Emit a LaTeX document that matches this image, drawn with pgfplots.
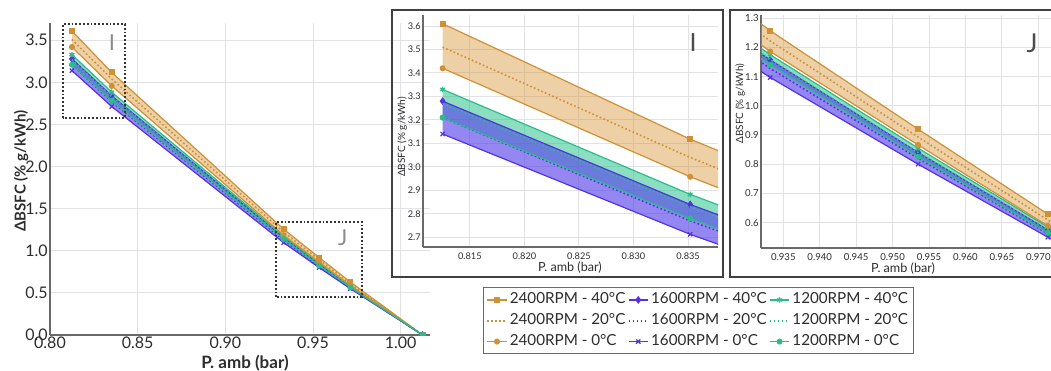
\documentclass[border=0pt]{standalone}
\usepackage{pgfplots}
\pgfplotsset{compat=1.18}
\usepackage{pgfplotstable}
\usepackage{fontspec}
\setmainfont{Lato}

\definecolor{corange}{RGB}{208,145,52}
\definecolor{cblue}{RGB}{85,50,225}
\definecolor{cgreen}{RGB}{40,190,140}
\definecolor{forange}{RGB}{215,150,55}
\definecolor{fblue}{RGB}{90,70,235}
\definecolor{fgreen}{RGB}{45,195,140}
\definecolor{gridc}{RGB}{226,226,230}
\definecolor{axc}{RGB}{105,105,105}
\definecolor{txt}{RGB}{45,45,45}

\pgfplotstableread{
x      a40   a20   a0    b40   b20   b0    c40   c20   c0
0.8125 3.610 3.510 3.420 3.280 3.210 3.140 3.330 3.270 3.210
0.8352 3.118 3.040 2.958 2.840 2.770 2.713 2.883 2.830 2.780
0.9332 1.257 1.222 1.186 1.157 1.128 1.097 1.175 1.158 1.140
0.9535 0.920 0.893 0.866 0.840 0.820 0.800 0.855 0.840 0.825
0.9713 0.629 0.609 0.589 0.575 0.562 0.550 0.585 0.575 0.565
1.0125 0.000 0.000 0.000 0.000 0.000 0.000 0.000 0.000 0.000
}\data

% bands: 40 C series forward, then 0 C series backward
\pgfplotstableread{
x      y
0.8125 3.610
0.8352 3.118
0.9332 1.257
0.9535 0.920
0.9713 0.629
1.0125 0.000
0.9713 0.589
0.9535 0.866
0.9332 1.186
0.8352 2.958
0.8125 3.420
}\bandA
\pgfplotstableread{
x      y
0.8125 3.280
0.8352 2.840
0.9332 1.157
0.9535 0.840
0.9713 0.575
1.0125 0.000
0.9713 0.550
0.9535 0.800
0.9332 1.097
0.8352 2.713
0.8125 3.140
}\bandB
\pgfplotstableread{
x      y
0.8125 3.330
0.8352 2.883
0.9332 1.175
0.9535 0.855
0.9713 0.585
1.0125 0.000
0.9713 0.565
0.9535 0.825
0.9332 1.140
0.8352 2.780
0.8125 3.210
}\bandC

\tikzset{dotl/.style={line width=0.8pt, dash pattern=on 0.8pt off 1.2pt}}

\newcommand{\allplots}{%
 \addplot[fill=forange, fill opacity=0.45, draw=none, forget plot] table[x=x,y=y]{\bandA} -- cycle;
 \addplot[fill=fgreen, fill opacity=0.55, draw=none, forget plot] table[x=x,y=y]{\bandC} -- cycle;
 \addplot[fill=fblue, fill opacity=0.65, draw=none, forget plot] table[x=x,y=y]{\bandB} -- cycle;
 \addplot[corange, line width=0.6pt, mark=square*, mark size=1.2pt] table[x=x,y=a40]{\data};
 \addplot[cblue, line width=0.6pt, mark=diamond*, mark size=1.5pt] table[x=x,y=b40]{\data};
 \addplot[cgreen, line width=0.6pt, mark=asterisk, mark size=1.4pt] table[x=x,y=c40]{\data};
 \addplot[corange, dotl] table[x=x,y=a20]{\data};
 \addplot[cblue, dotl] table[x=x,y=b20]{\data};
 \addplot[cgreen, dotl] table[x=x,y=c20]{\data};
 \addplot[corange, line width=0.6pt, mark=*, mark size=1.2pt] table[x=x,y=a0]{\data};
 \addplot[cblue, line width=0.6pt, mark=x, mark size=1.5pt] table[x=x,y=b0]{\data};
 \addplot[cgreen, line width=0.6pt, mark=*, mark size=1.2pt] table[x=x,y=c0]{\data};
}

\pgfplotsset{
 base/.style={
  scale only axis, axis lines=left,
  axis line style={axc, line width=1pt, -},
  grid=major, grid style={gridc, line width=0.5pt},
  major tick length=0pt,
  tick label style={text=txt, inner sep=1pt},
  clip marker paths=true,
  /pgf/number format/assume math mode=true,
 },
}

\begin{document}
\begin{tikzpicture}
\useasboundingbox (0,0) rectangle (525.5pt,185pt);

% ---------------- main axis
\begin{axis}[base,
  at={(25pt,17.5pt)}, anchor=south west, width=190pt, height=156pt,
  xmin=0.80, xmax=1.0167, ymin=0, ymax=3.705,
  xtick={0.80,0.85,0.90,0.95,1.00},
  ytick={0,0.5,1,1.5,2,2.5,3,3.5},
  tick label style={font=\fontsize{8}{9}\selectfont},
  xticklabel style={/pgf/number format/.cd, fixed, fixed zerofill, precision=2},
  yticklabel style={/pgf/number format/.cd, fixed, fixed zerofill, precision=1},
  xlabel={P. amb (bar)}, ylabel={ΔBSFC (\% g/kWh)},
  every axis x label/.style={at={(axis description cs:0.513,-0.09)}, anchor=center, font=\fontsize{8.5}{9}\selectfont\bfseries, text=txt},
  every axis y label/.style={at={(axis description cs:-0.076,0.525)}, anchor=center, rotate=90, font=\fontsize{7.5}{9}\selectfont\bfseries, text=txt},
  legend columns=3,
  legend style={at={(axis description cs:1.1395,0.1538)}, anchor=north west, draw=axc, line width=0.5pt, fill=white,
    font=\fontsize{7.6}{9.5}\selectfont, text=txt, row sep=1pt, inner sep=1.5pt,
    nodes={inner sep=1.2pt},
    /tikz/every even column/.append style={column sep=0pt}},
  legend cell align=left,
  legend image code/.code={\draw[mark repeat=2,mark phase=2,#1] plot coordinates {(0cm,0cm) (0.17cm,0cm) (0.34cm,0cm)};},
  legend entries={2400RPM - 40°C, 1600RPM - 40°C, 1200RPM - 40°C,
                  2400RPM - 20°C, 1600RPM - 20°C, 1200RPM - 20°C,
                  2400RPM - 0°C, 1600RPM - 0°C, 1200RPM - 0°C},
]
\allplots
\draw[black!80, densely dotted, line width=0.9pt] (axis cs:0.8074,2.574) rectangle (axis cs:0.8428,3.69);
\draw[black!80, densely dotted, line width=0.9pt] (axis cs:0.9289,0.45) rectangle (axis cs:0.9779,1.34);
\node[text=black!45, font=\fontsize{11}{12}\selectfont] at (axis cs:0.8353,3.47) {I};
\node[text=black!45, font=\fontsize{11}{12}\selectfont] at (axis cs:0.967,1.15) {J};
\end{axis}

% ---------------- inset I
\draw[black!75, line width=1pt] (196pt,46.5pt) rectangle (361.5pt,180pt);
\begin{axis}[base,
  at={(211.5pt,61.5pt)}, anchor=south west, width=147.5pt, height=116pt,
  axis line style={axc, line width=0.7pt, -},
  xmin=0.8107, xmax=0.83775, ymin=2.659, ymax=3.647,
  xtick={0.815,0.820,0.825,0.830,0.835},
  ytick={2.7,2.8,2.9,3.0,3.1,3.2,3.3,3.4,3.5,3.6},
  tick label style={font=\fontsize{4.6}{5}\selectfont},
  xticklabel style={yshift=-1.5pt, /pgf/number format/.cd, fixed, fixed zerofill, precision=3},
  yticklabel style={/pgf/number format/.cd, fixed, fixed zerofill, precision=1},
  xlabel={P. amb (bar)}, ylabel={ΔBSFC (\% g/kWh)},
  every axis x label/.style={at={(axis description cs:0.498,-0.088)}, anchor=center, font=\fontsize{6.3}{7}\selectfont, text=txt},
  every axis y label/.style={at={(axis description cs:-0.071,0.474)}, anchor=center, rotate=90, font=\fontsize{5}{6}\selectfont, text=txt},
]
\allplots
\end{axis}
\node[text=black!70, font=\fontsize{12.5}{13}\selectfont] at (346.5pt,163.5pt) {I};

% ---------------- inset J
\draw[black!75, line width=1pt] (365pt,46.5pt) rectangle (530pt,180pt);
\begin{axis}[base,
  at={(380.5pt,61pt)}, anchor=south west, width=145pt, height=116.5pt,
  axis line style={axc, line width=0.7pt, -},
  xmin=0.93194, xmax=0.97174, ymin=0.513, ymax=1.311,
  xtick={0.935,0.940,0.945,0.950,0.955,0.960,0.965,0.970},
  ytick={0.6,0.7,0.8,0.9,1.0,1.1,1.2,1.3},
  tick label style={font=\fontsize{4.8}{5}\selectfont},
  xticklabel style={yshift=-1.5pt, /pgf/number format/.cd, fixed, fixed zerofill, precision=3},
  yticklabel style={/pgf/number format/.cd, fixed, fixed zerofill, precision=1},
  xlabel={P. amb (bar)}, ylabel={ΔBSFC (\% g/kWh)},
  every axis x label/.style={at={(axis description cs:0.49,-0.09)}, anchor=center, font=\fontsize{6.3}{7}\selectfont, text=txt},
  every axis y label/.style={at={(axis description cs:-0.072,0.62)}, anchor=center, rotate=90, font=\fontsize{5}{6}\selectfont, text=txt},
]
\allplots
\end{axis}
\node[text=black!70, font=\fontsize{13}{14}\selectfont] at (516pt,163.5pt) {J};

\end{tikzpicture}
\end{document}
